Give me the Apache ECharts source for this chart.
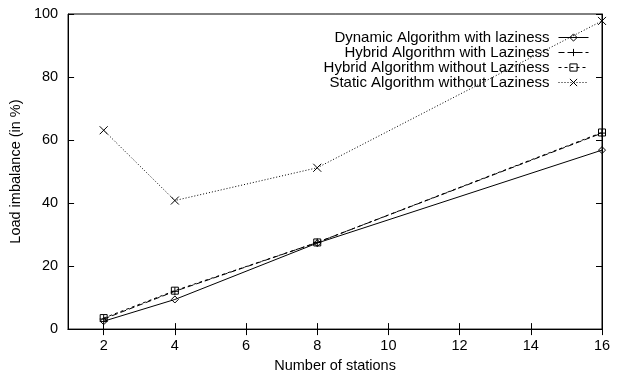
<!DOCTYPE html>
<html><head><meta charset="utf-8">
<script src="https://cdn.jsdelivr.net/npm/echarts@6/dist/echarts.min.js"></script>
<style>html,body{margin:0;padding:0;background:#fff}#c{width:624px;height:378px}</style>
</head><body><div id="c"></div>
<script>
const stations = [2, 4, 8, 16];
const xTicks = [2, 4, 6, 8, 10, 12, 14, 16];
const dynamicLazy = [2.5, 9.4, 27.3, 56.8];
const hybridLazy = [3.2, 12.0, 27.5, 62.2];
const hybridNoLazy = [3.5, 12.2, 27.5, 62.4];
const staticNoLazy = [63.1, 40.8, 51.2, 97.8];
const names = ['Dynamic Algorithm with laziness','Hybrid Algorithm with Laziness','Hybrid Algorithm without Laziness','Static Algorithm without Laziness'];

const FONT = 'Liberation Sans, Arial, sans-serif';
const FS = 14.5;
const symbols = {
  diamond: 'path://M5,0L10,5L5,10L0,5Z',
  plus: 'path://M5,0L5,10M0,5L10,5',
  square: 'path://M0,0L10,0L10,10L0,10Z',
  cross: 'path://M0,0L10,10M10,0L0,10'
};
function mk(name, data, sym, size, dash) {
  return {
    name, type: 'line',
    data: stations.map((x, i) => [x, data[i]]),
    symbol: sym, symbolSize: size,
    itemStyle: {color: 'rgba(0,0,0,0)', borderColor: '#000', borderWidth: 1},
    lineStyle: {color: '#000', width: 1, type: dash},
    emphasis: {disabled: true},
    animation: false, z: 3
  };
}
const series = [
  mk(names[0], dynamicLazy, symbols.diamond, 7, 'solid'),
  mk(names[1], hybridLazy, symbols.plus, 8, [6, 3]),
  mk(names[2], hybridNoLazy, symbols.square, 7, [3, 3]),
  mk(names[3], staticNoLazy, symbols.cross, 8, [1, 2])
];
const legends = names.map((n, i) => ({
  data: [n], right: 35, top: 30 + i * 15, align: 'right',
  itemWidth: 30, itemHeight: 9, itemGap: 0, padding: 0,
  selectedMode: false,
  lineStyle: {width: 1},
  itemStyle: {borderWidth: 1},
  textStyle: {fontFamily: FONT, fontSize: 15, color: '#000', padding: [0, 4, 0, 0]},
  inactiveColor: '#000'
}));
const tickStyle = {show: true, inside: true, length: 6, lineStyle: {color: '#000', width: 1}};
const chart = echarts.init(document.getElementById('c'), null, {renderer: 'canvas'});
chart.setOption({
  animation: false,
  backgroundColor: '#fff',
  grid: {left: 67, right: 22, top: 14, bottom: 42, show: true, borderColor: '#000', borderWidth: 1, backgroundColor: 'transparent'},
  legend: legends,
  xAxis: [{
    type: 'value', min: 1, max: 16, position: 'bottom',
    name: 'Number of stations', nameLocation: 'middle', nameGap: 24,
    nameTextStyle: {fontFamily: FONT, fontSize: FS, color: '#000'},
    axisLine: {show: true, lineStyle: {color: '#000', width: 1}},
    axisTick: Object.assign({customValues: xTicks}, tickStyle),
    axisLabel: {customValues: xTicks, fontFamily: FONT, fontSize: FS, color: '#000', margin: 9},
    splitLine: {show: false}
  }, {
    type: 'value', min: 1, max: 16, position: 'top',
    axisLine: {show: true, lineStyle: {color: '#000', width: 1}},
    axisTick: Object.assign({customValues: xTicks}, tickStyle),
    axisLabel: {show: false}, splitLine: {show: false}
  }],
  yAxis: [{
    type: 'value', min: 0, max: 100, interval: 20, position: 'left',
    name: 'Load imbalance (in %)', nameLocation: 'middle', nameGap: 38,
    nameTextStyle: {fontFamily: FONT, fontSize: FS, color: '#000'},
    axisLine: {show: true, lineStyle: {color: '#000', width: 1}},
    axisTick: tickStyle,
    axisLabel: {fontFamily: FONT, fontSize: FS, color: '#000', margin: 10},
    splitLine: {show: false}
  }, {
    type: 'value', min: 0, max: 100, interval: 20, position: 'right',
    axisLine: {show: true, lineStyle: {color: '#000', width: 1}},
    axisTick: tickStyle,
    axisLabel: {show: false}, splitLine: {show: false}
  }],
  series
});
</script></body></html>
